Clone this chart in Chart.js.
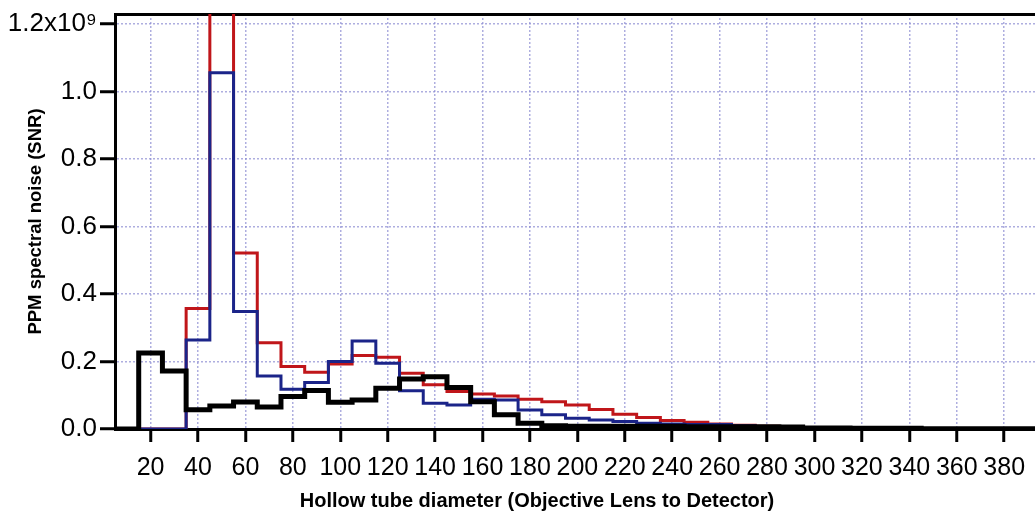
<!DOCTYPE html>
<html>
<head>
<meta charset="utf-8">
<script src="https://cdn.jsdelivr.net/npm/chart.js@4.4.1/dist/chart.umd.min.js"></script>
<style>
  html, body { margin: 0; padding: 0; background: #fff; overflow: hidden; }
  canvas { display: block; }
</style>
</head>
<body>
<canvas id="chart" width="1035" height="514"></canvas>
<script>
// histogram bins, 10 wide; binStart is the left edge of each bin
const binWidth = 10;
const binStart = [5, 15, 25, 35, 45, 55, 65, 75, 85, 95, 105, 115, 125, 135, 145, 155, 165, 175, 185, 195,
    205, 215, 225, 235, 245, 255, 265, 275, 285, 295, 305, 315, 325, 335, 345, 355, 365, 375, 385];

// values in units of 1e9
const blackNoise = [0, 0.225, 0.172, 0.057, 0.068, 0.080, 0.065, 0.096, 0.114, 0.079, 0.086, 0.121, 0.148, 0.155,
    0.123, 0.081, 0.042, 0.017, 0.010, 0.008, 0.008, 0.008, 0.008, 0.008, 0.007, 0.007, 0.007, 0.007, 0.006,
    0.003, 0.003, 0.002, 0.002, 0.002, 0.001, 0.001, 0.001, 0.001, 0.001];
const blueNoise = [null, 0, 0, 0.264, 1.056, 0.348, 0.157, 0.118, 0.138, 0.200, 0.261, 0.195, 0.113, 0.076,
    0.071, 0.088, 0.086, 0.056, 0.042, 0.032, 0.027, 0.022, 0.017, 0.015, 0.013, 0.013, 0.010, 0.007, 0.004,
    0.002, 0.001, 0.001, 0.001, 0.001, 0.001, 0.001, 0.001, 0.001, 0.001];
const redNoise = [null, 0, 0, 0.357, 1.6, 0.522, 0.256, 0.185, 0.168, 0.193, 0.218, 0.213, 0.165, 0.131,
    0.111, 0.104, 0.098, 0.088, 0.081, 0.071, 0.058, 0.044, 0.034, 0.025, 0.020, 0.015, 0.011, 0.008, 0.005,
    0.003, 0.002, 0.002, 0.001, 0.001, 0.001, 0.001, 0.001, 0.001, 0.001];

const xTicks = [20, 40, 60, 80, 100, 120, 140, 160, 180, 200, 220, 240, 260, 280, 300, 320, 340, 360, 380];
const yTicks = [0, 0.2, 0.4, 0.6, 0.8, 1.0, 1.2];
const yTickLabels = ['0.0', '0.2', '0.4', '0.6', '0.8', '1.0', '1.2x10\u2079'];

const xTitle = 'Hollow tube diameter (Objective Lens to Detector)';
const yTitle = 'PPM spectral noise (SNR)';

const fontFamily = '"Liberation Sans", Arial, Helvetica, sans-serif';
const gridColor = 'rgba(140, 140, 210, 0.7)';

function steps(values) {
    let pts = values.map((v, i) => ({ x: binStart[i], y: v }));
    pts.push({ x: binStart[binStart.length - 1] + binWidth, y: values[values.length - 1] });
    return pts;
}

function lineSet(label, values, color, width) {
    return {
        label: label,
        data: steps(values),
        borderColor: color,
        borderWidth: width,
        stepped: true,
        pointRadius: 0,
        fill: false,
        borderJoinStyle: 'miter',
        borderCapStyle: 'butt'
    };
}

const xTitlePlugin = {
    id: 'xTitle',
    afterDraw(chart) {
        const ctx = chart.ctx;
        ctx.save();
        ctx.font = 'bold 20px ' + fontFamily;
        ctx.fillStyle = '#000';
        ctx.textAlign = 'center';
        ctx.textBaseline = 'alphabetic';
        ctx.fillText(xTitle, chart.chartArea.left + 422, 507);
        ctx.restore();
    }
};

new Chart(document.getElementById('chart'), {
    type: 'line',
    data: {
        datasets: [
            lineSet('black', blackNoise, '#000000', 5),
            lineSet('blue', blueNoise, '#1b2489', 3),
            lineSet('red', redNoise, '#c0161a', 3)
        ]
    },
    options: {
        responsive: false,
        animation: false,
        devicePixelRatio: 1,
        layout: { padding: 0 },
        plugins: {
            legend: { display: false },
            tooltip: { enabled: false }
        },
        scales: {
            x: {
                type: 'linear',
                position: 'bottom',
                min: 5,
                max: 393,
                afterBuildTicks: (scale) => { scale.ticks = xTicks.map(v => ({ value: v })); },
                afterFit: (scale) => {
                    scale.height = 85;
                    scale.paddingLeft = 0;
                    scale.paddingRight = 0;
                },
                ticks: {
                    autoSkip: false,
                    maxRotation: 0,
                    padding: 11,
                    color: '#000',
                    font: { family: fontFamily, size: 25 }
                },
                grid: {
                    color: gridColor,
                    lineWidth: 1.5,
                    tickColor: '#000',
                    tickWidth: 3,
                    tickLength: 13,
                    tickBorderDash: []
                },
                border: { display: true, color: '#000', width: 3, dash: [2, 2] }
            },
            x2: {
                type: 'linear',
                position: 'top',
                min: 5,
                max: 393,
                afterFit: (scale) => { scale.height = 14; },
                ticks: { display: false },
                grid: { display: false, drawTicks: false },
                border: { display: true, color: '#000', width: 3 }
            },
            y: {
                type: 'linear',
                min: 0,
                max: 1.23,
                afterBuildTicks: (scale) => { scale.ticks = yTicks.map(v => ({ value: v })); },
                afterFit: (scale) => {
                    scale.width = 115;
                    scale.paddingTop = 0;
                    scale.paddingBottom = 0;
                },
                ticks: {
                    padding: 3,
                    color: '#000',
                    font: { family: fontFamily, size: 26 },
                    callback: (v, i) => yTickLabels[i]
                },
                grid: {
                    color: gridColor,
                    lineWidth: 1.5,
                    tickColor: '#000',
                    tickWidth: 3,
                    tickLength: 15,
                    tickBorderDash: []
                },
                border: { display: true, color: '#000', width: 3, dash: [2, 2] },
                title: {
                    display: true,
                    text: yTitle,
                    color: '#000',
                    font: { family: fontFamily, size: 18.5, weight: 'bold' },
                    padding: { top: 25, bottom: 0 }
                }
            }
        }
    },
    plugins: [xTitlePlugin]
});
</script>
</body>
</html>
